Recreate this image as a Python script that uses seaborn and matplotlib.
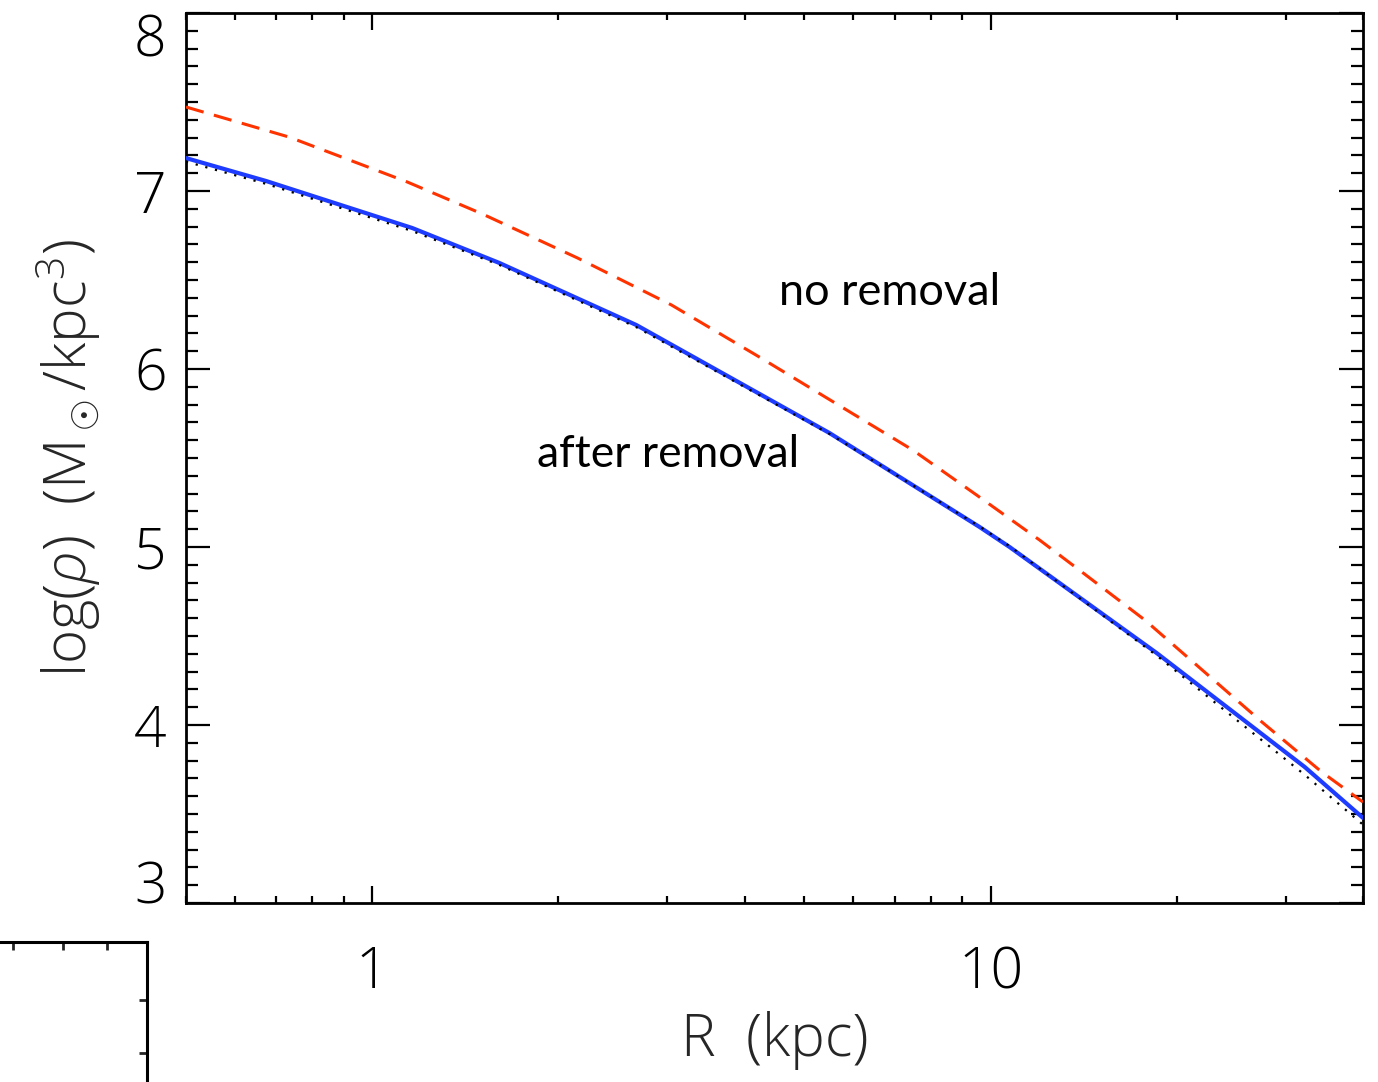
import numpy as np
import pandas as pd
import seaborn as sns
import matplotlib
matplotlib.use("Agg")
import matplotlib.pyplot as plt
from matplotlib.ticker import FixedLocator, NullFormatter, FixedFormatter

# ---------------- data ----------------
r_after = [0.5, 0.674, 1.161, 1.605, 2.674, 5.49, 9.60, 10.73, 18.56, 32.2, 40.0]
logrho_after = [7.185, 7.056, 6.792, 6.596, 6.247, 5.640, 5.112, 5.000, 4.404, 3.764, 3.478]

r_dotted = [0.5, 0.674, 1.161, 1.605, 2.674, 5.49, 9.60, 10.73, 18.56, 32.2, 40.0]
logrho_dotted = [7.165, 7.040, 6.775, 6.585, 6.235, 5.635, 5.115, 5.005, 4.390, 3.720, 3.440]

r_none = [0.5, 0.734, 1.139, 1.507, 2.147, 3.046, 4.228, 5.848, 7.48, 9.49,
          12.0, 14.04, 17.75, 21.7, 27.45, 34.3, 40.0]
logrho_none = [7.472, 7.303, 7.051, 6.871, 6.624, 6.360, 6.067, 5.770, 5.545, 5.292,
               5.039, 4.860, 4.590, 4.326, 4.017, 3.736, 3.567]

x_ticks = [1, 10]
x_ticklabels = ["1", "10"]
y_ticks = [3, 4, 5, 6, 7, 8]
y_ticklabels = ["3", "4", "5", "6", "7", "8"]

# ---------------- style ----------------
sns.set_style("ticks")
plt.rcParams["font.family"] = ["Open Sans", "DejaVu Sans"]
plt.rcParams["font.weight"] = "light"
plt.rcParams["mathtext.fontset"] = "custom"
plt.rcParams["mathtext.rm"] = "Open Sans:light"
plt.rcParams["mathtext.it"] = "Open Sans:italic"

BLUE = "#1e3cff"
RED = "#ff3300"

fig = plt.figure(figsize=(13.78, 10.82), dpi=100)
ax = fig.add_axes([186 / 1378, 1 - 903 / 1082, (1363 - 186) / 1378, (903 - 13) / 1082])

sns.lineplot(x=r_none, y=logrho_none, ax=ax, color=RED, linewidth=2.2,
             linestyle=(0, (6, 3.5)), sort=False, estimator=None, zorder=3)
sns.lineplot(x=r_after, y=logrho_after, ax=ax, color=BLUE, linewidth=3.0,
             sort=False, estimator=None, zorder=4)
sns.lineplot(x=r_dotted, y=logrho_dotted, ax=ax, color="black", linewidth=1.6,
             linestyle=(0, (1, 3.5)), sort=False, estimator=None, zorder=5)

ax.set_xscale("log")
ax.set_xlim(0.5, 40)
ax.set_ylim(3, 8)

ax.xaxis.set_major_locator(FixedLocator(x_ticks))
ax.xaxis.set_major_formatter(FixedFormatter(x_ticklabels))
minors = [m * 10.0 ** e for e in (-1, 0, 1) for m in range(2, 10)]
ax.xaxis.set_minor_locator(FixedLocator([v for v in minors if 0.5 <= v <= 40]))
ax.xaxis.set_minor_formatter(NullFormatter())

ax.yaxis.set_major_locator(FixedLocator(y_ticks))
ax.yaxis.set_major_formatter(FixedFormatter(y_ticklabels))
ax.yaxis.set_minor_locator(FixedLocator(np.arange(3.0, 8.001, 0.1)))

for s in ax.spines.values():
    s.set_visible(True)
    s.set_linewidth(2.0)
    s.set_color("black")

ax.tick_params(axis="both", which="both", direction="in", top=True, right=True,
               color="black", width=1.6, labelsize=41, labelcolor="black")
ax.tick_params(axis="x", which="major", length=12, pad=30)
ax.tick_params(axis="x", which="minor", length=5)
ax.tick_params(axis="y", which="major", length=17, pad=14)
ax.tick_params(axis="y", which="minor", length=8.5)

for lab in ax.get_xticklabels() + ax.get_yticklabels():
    lab.set_fontweight("light")

ylabs = ax.get_yticklabels()
ylabs[-1].set_verticalalignment("top")
ylabs[0].set_verticalalignment("baseline")

ax.set_xlabel("R  (kpc)", fontsize=42, fontweight="light", labelpad=6)
ax.set_ylabel(r"log($\rho$)  (M$_\odot$/kpc$^3$)", fontsize=42, fontweight="light", labelpad=22)

ax.text(4.556, 6.36, "no removal", fontsize=32.5, family=["Lato", "DejaVu Sans"],
        fontweight="normal", ha="left", va="baseline", color="black")
ax.text(1.849, 5.449, "after removal", fontsize=32, family=["Lato", "DejaVu Sans"],
        fontweight="normal", ha="left", va="baseline", color="black")

# partial frame of a neighbouring panel (bottom-left corner of the page)
ax2 = fig.add_axes([-0.2, -0.2, 0.2 + 147 / 1378, 0.2 + 1 - 942 / 1082])
ax2.set_xlim(-300, 147)
ax2.set_ylim(1300, 942)
ax2.spines["left"].set_visible(False)
ax2.spines["bottom"].set_visible(False)
for k in ("top", "right"):
    ax2.spines[k].set_linewidth(2.2)
    ax2.spines[k].set_color("black")
ax2.xaxis.set_ticks_position("top")
ax2.yaxis.set_ticks_position("right")
ax2.set_xticks([5, 58, 105])
ax2.set_yticks([1000, 1053])
ax2.tick_params(direction="in", length=6, width=2, labeltop=False, labelright=False,
                labelbottom=False, labelleft=False)
ax2.patch.set_alpha(0)

fig.savefig("out.png", dpi=100)
